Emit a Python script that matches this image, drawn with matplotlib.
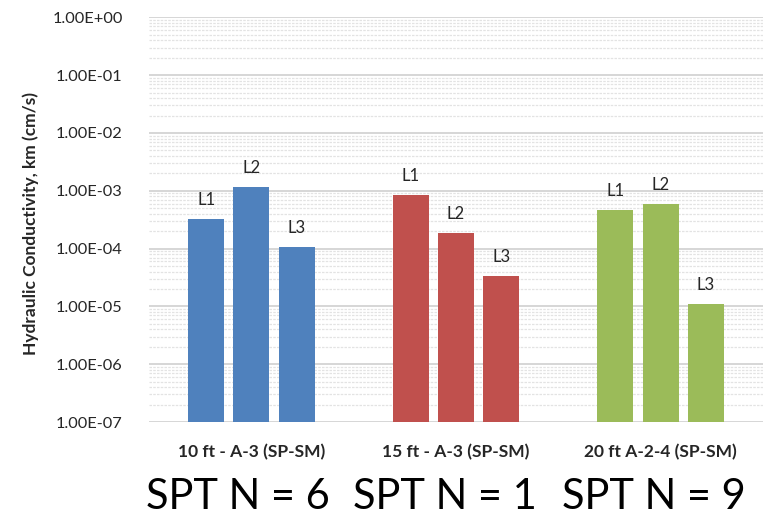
import matplotlib
matplotlib.use("Agg")
import matplotlib.pyplot as plt
import numpy as np
from matplotlib.ticker import LogLocator, FixedLocator, NullFormatter

# Soil samples and lift measurements of hydraulic conductivity (cm/s)
categories = ["10 ft - A-3 (SP-SM)", "15 ft - A-3 (SP-SM)", "20 ft A-2-4 (SP-SM)"]
layer_labels = ["L1", "L2", "L3"]
k_10ft = [3.20e-4, 1.15e-3, 1.05e-4]
k_15ft = [8.43e-4, 1.83e-4, 3.30e-5]
k_20ft = [4.63e-4, 5.96e-4, 1.10e-5]
spt_labels = ["SPT N = 6", "SPT N = 1", "SPT N = 9"]
y_ticks = [1e-7, 1e-6, 1e-5, 1e-4, 1e-3, 1e-2, 1e-1, 1e0]
y_tick_labels = ["1.00E-07", "1.00E-06", "1.00E-05", "1.00E-04",
                 "1.00E-03", "1.00E-02", "1.00E-01", "1.00E+00"]

colors = ["#4F81BD", "#C0504D", "#9BBB59"]
plt.rcParams["font.family"] = ["Lato", "DejaVu Sans"]

fig = plt.figure(figsize=(7.71, 5.21), dpi=100)
ax = fig.add_axes([149 / 771, 1 - 422 / 521, (763 - 149) / 771, (422 - 17.3) / 521])

ax.set_yscale("log")
ax.set_ylim(1e-7, 1e0)
ax.set_xlim(-0.5, 2.5)

bar_w = 0.176
step = 0.221
offsets = [-step, 0.0, step]

for gi, (vals, col) in enumerate(zip([k_10ft, k_15ft, k_20ft], colors)):
    xs = [gi + o for o in offsets]
    bars = ax.bar(xs, vals, width=bar_w, color=col, bottom=1e-7, zorder=3)
    for b, lab in zip(bars, layer_labels):
        ax.annotate(lab, (b.get_x() + b.get_width() / 2, b.get_height() + 1e-7),
                    xytext=(0, 8), textcoords="offset points",
                    ha="center", va="bottom", fontsize=12, color="#262626")

# grid
ax.yaxis.set_major_locator(FixedLocator(y_ticks))
ax.set_yticklabels(y_tick_labels)
ax.yaxis.set_minor_locator(LogLocator(base=10, subs=np.arange(2, 10), numticks=20))
ax.yaxis.set_minor_formatter(NullFormatter())
ax.grid(axis="y", which="major", color="#D0D0D0", linewidth=1.2, zorder=0)
ax.grid(axis="y", which="minor", color="#E3E3E3", linewidth=0.9,
        linestyle=(0, (2, 1)), zorder=0)

ax.set_xticks(range(len(categories)))
ax.set_xticklabels(categories, fontsize=12.5, fontweight="bold", color="#262626")
ax.tick_params(axis="x", length=0, pad=16)
ax.tick_params(axis="y", which="both", length=0, pad=19, labelsize=11.8,
               labelcolor="#262626")

for s in ax.spines.values():
    s.set_visible(False)

fig.text(31 / 771, 1 - 224 / 521, "Hydraulic Conductivity, km (cm/s)",
         rotation=90, ha="center", va="center", fontsize=12.5,
         fontweight="bold", color="#262626")

for xc, txt in zip([238, 445, 654], spt_labels):
    fig.text(xc / 771, 1 - 497 / 521, txt, ha="center", va="center",
             fontsize=30, color="black")

fig.savefig("out.png", dpi=100, facecolor="white")
